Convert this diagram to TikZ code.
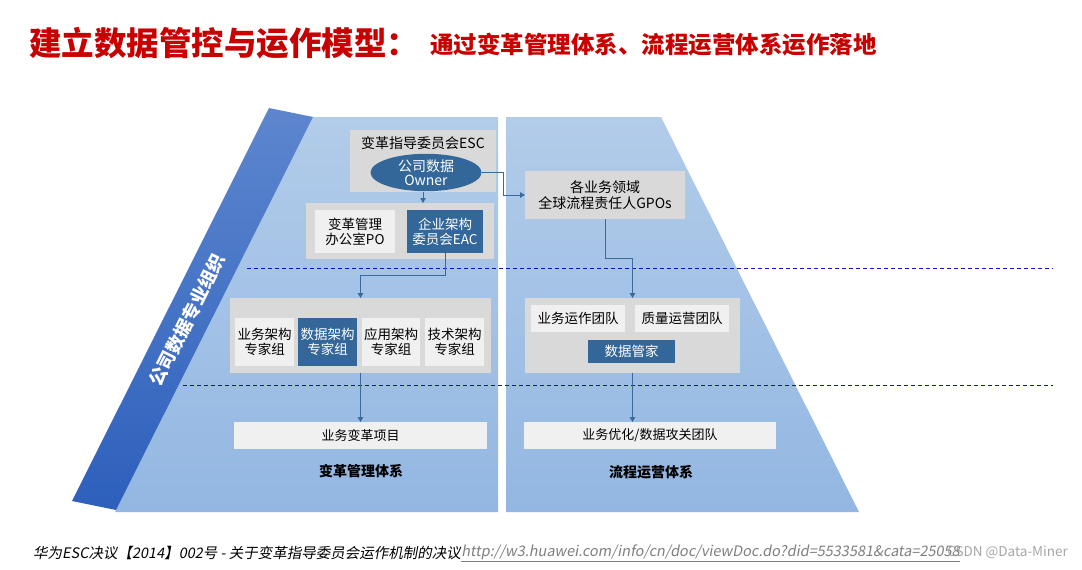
\documentclass[tikz,border=0pt]{standalone}
\usepackage{fontspec}
\setmainfont{Noto Sans CJK SC}
\newfontfamily\cjkit{Noto Sans CJK SC}[FakeSlant=0.18]
\usetikzlibrary{arrows.meta,shapes.geometric}
\definecolor{titlered}{HTML}{C80000}
\definecolor{bandtop}{HTML}{5D86CE}
\definecolor{bandbot}{HTML}{2D60BC}
\definecolor{paneltop}{HTML}{B2CCE9}
\definecolor{panelbot}{HTML}{93B7E2}
\definecolor{boxgray}{HTML}{D9D9D9}
\definecolor{boxlight}{HTML}{F0F0F0}
\definecolor{boxdark}{HTML}{336699}
\definecolor{arrowcol}{HTML}{3A6A9C}
\definecolor{dashcol}{HTML}{1010C8}
\definecolor{urlgray}{HTML}{7F7F7F}
\definecolor{wmgray}{HTML}{A6A6A6}
\begin{document}
\begin{tikzpicture}[x=1pt,y=-1pt,
  base/.style={inner sep=0pt, outer sep=0pt, align=center, font=\fontsize{13.5}{15}\selectfont},
  graybox/.style={base, fill=boxgray},
  lightbox/.style={base, fill=boxlight, text=black},
  darkbox/.style={base, fill=boxdark, text=white},
  arr/.style={draw=arrowcol, line width=1pt, -{Triangle[width=5.5pt,length=5pt]}},
  sep/.style={draw=dashcol, line width=0.9pt, dash pattern=on 4pt off 3pt},
  systitle/.style={font=\fontsize{14}{16}\selectfont\bfseries, text=black}
]
\useasboundingbox (0,0) rectangle (1082,570);
\fill[white] (0,0) rectangle (1082,570);

% title
\node[anchor=west, text=titlered, font=\fontsize{32.5}{33}\selectfont\bfseries, inner sep=0pt] (title) at (29,43) {建立数据管控与运作模型：};
\node[anchor=west, text=titlered, font=\fontsize{23.5}{24}\selectfont\bfseries, inner sep=0pt] (subtitle) at (430,45) {通过变革管理体系、流程运营体系运作落地};

% panels
\shade[top color=paneltop, bottom color=panelbot] (313,117) -- (498,117) -- (498,512) -- (115,512) -- cycle;
\shade[top color=paneltop, bottom color=panelbot] (506,117) -- (661,117) -- (859,512) -- (506,512) -- cycle;
% band
\shade[top color=bandtop, bottom color=bandbot] (269,108) -- (313,117) -- (116,510) -- (72,501) -- cycle;
\node[rotate=63.43, text=white, font=\fontsize{18}{19}\selectfont\bfseries, inner sep=0pt] (band) at (187,320) {公司数据专业组织};

% dashed separators
\draw[sep] (247,268) -- (1053,268);
\draw[sep] (183,385) -- (1053,385);

% left column
\node[graybox, minimum width=146pt, minimum height=62pt] (esc) at (423,161) {};
\node[base, font=\fontsize{14}{16}\selectfont] (esct) at (423,143.5) {变革指导委员会ESC};
\node[ellipse, fill=boxdark, text=white, inner sep=0pt, minimum width=111pt, minimum height=30pt, align=center, font=\fontsize{14}{14.5}\selectfont] (owner) at (426,172.5) {公司数据\\Owner};

\node[graybox, minimum width=188pt, minimum height=56pt] (box2) at (400,231) {};
\node[lightbox, minimum width=80pt, minimum height=43pt] (po) at (355,231.5) {变革管理\\办公室PO};
\node[darkbox, minimum width=76pt, minimum height=43pt] (eac) at (445,231.5) {企业架构\\委员会EAC};

\node[graybox, minimum width=261pt, minimum height=75pt] (box3) at (360.5,335.5) {};
\node[lightbox, minimum width=59pt, minimum height=48pt] (ba) at (264.5,342) {业务架构\\专家组};
\node[darkbox, minimum width=59pt, minimum height=48pt] (da) at (327.5,342) {数据架构\\专家组};
\node[lightbox, minimum width=58pt, minimum height=48pt] (aa) at (391,342) {应用架构\\专家组};
\node[lightbox, minimum width=59pt, minimum height=48pt] (ta) at (454.5,342) {技术架构\\专家组};

\node[lightbox, minimum width=253pt, minimum height=27pt, font=\fontsize{13}{15}\selectfont] (proj) at (360.5,435.5) {业务变革项目};
\node[systitle] (lsys) at (361,471) {变革管理体系};

% right column
\node[graybox, minimum width=160pt, minimum height=48pt, font=\fontsize{14}{16.5}\selectfont] (gpo) at (605,195) {各业务领域\\全球流程责任人GPOs};

\node[graybox, minimum width=215pt, minimum height=75pt] (rbox) at (632.5,335.5) {};
\node[lightbox, minimum width=94pt, minimum height=27pt] (ops) at (578,318.5) {业务运作团队};
\node[lightbox, minimum width=94pt, minimum height=27pt] (qual) at (682,318.5) {质量运营团队};
\node[darkbox, minimum width=87pt, minimum height=23pt] (steward) at (631.5,351.5) {数据管家};

\node[lightbox, minimum width=252pt, minimum height=27pt, font=\fontsize{13}{15}\selectfont] (opt) at (650,435.5) {业务优化/数据攻关团队};
\node[systitle] (rsys) at (651,472) {流程运营体系};

% connectors
\draw[arr] (esc.south) -- (esc.south |- box2.north);
\draw[arr] (eac.south) -- ++(0,22) -| (box3.north);
\draw[arr] (box3.south) -- (proj.north);
\draw[arr] (owner.east) -- ++(21.5,0) |- (gpo.west);
\draw[arr] (gpo.south) -- ++(0,39) -| (rbox.north);
\draw[arr] (rbox.south) -- (rbox.south |- opt.north);

% footer
\node[anchor=west, inner sep=0pt, font=\fontsize{14.5}{16}\selectfont\cjkit] (src) at (33,553) {华为ESC决议【2014】002号 - 关于变革指导委员会运作机制的决议};
\node[anchor=west, inner sep=0pt, text=urlgray, font=\fontsize{14.5}{16}\selectfont\cjkit] (url) at (src.east) {\underline{http://w3.huawei.com/info/cn/doc/viewDoc.do?did=5533581\&cata=25058}};
\node[anchor=east, inner sep=0pt, text=wmgray, font=\fontsize{13.5}{15}\selectfont] (wm) at (1068,552) {CSDN @Data-Miner};
\end{tikzpicture}
\end{document}
